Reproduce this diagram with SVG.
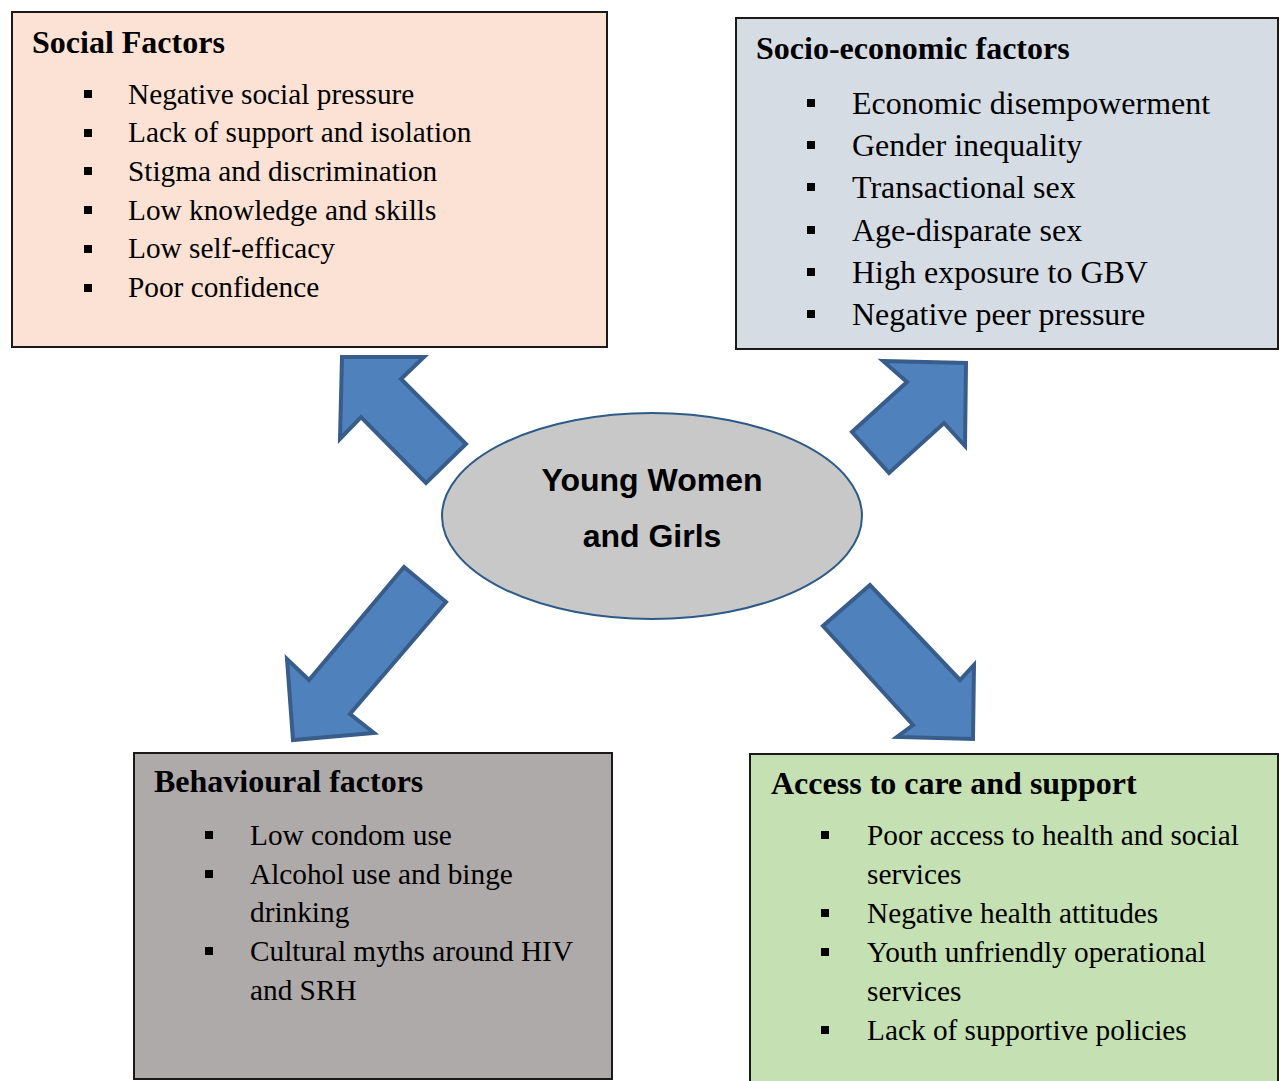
<svg xmlns="http://www.w3.org/2000/svg" width="1280" height="1081" viewBox="0 0 1280 1081">
<style>
.box{stroke:#1a1a1a;stroke-width:2}
.hd{font-family:"Liberation Serif","Times New Roman",serif;font-weight:bold;font-size:32px;fill:#000}
.it{font-family:"Liberation Serif","Times New Roman",serif;font-size:29.3px;fill:#000}
.it2{font-family:"Liberation Serif","Times New Roman",serif;font-size:32px;fill:#000}
.arrow{fill:#4F81BD;stroke:#385D8A;stroke-width:4;stroke-linejoin:miter}
.ctr{font-family:"Liberation Sans",Arial,sans-serif;font-weight:bold;font-size:32px;fill:#000}
</style>
<defs>
<rect id="b" width="8" height="8" fill="#000"/>
</defs>
<rect width="1280" height="1081" fill="#fff"/>

<g id="connectors">
<polygon class="arrow" points="342,357 424,357 401,379 466,444 426,483 361,417 340,439"/>
<polygon class="arrow" points="883,361 966,363 965,446 944,423 889,473 852,432 907,382"/>
<polygon class="arrow" points="404,567 446,602 350,714 374,733 293,740 287,659 309,680"/>
<polygon class="arrow" points="870,585 823,626 913,725 897,737 973,739 974,665 960,680"/>
</g>

<g id="center">
<ellipse cx="652" cy="516" rx="210" ry="103" fill="#C8C8C8" stroke="#2E5A88" stroke-width="2"/>
<text class="ctr" x="652" y="491" text-anchor="middle">Young Women</text>
<text class="ctr" x="652" y="547" text-anchor="middle">and Girls</text>
</g>

<g id="social">
<rect class="box" x="12" y="12" width="595" height="335" fill="#FBE2D5"/>
<text class="hd" x="32" y="53">Social Factors</text>
<use href="#b" x="84" y="90"/><text class="it" x="128" y="103.5">Negative social pressure</text>
<use href="#b" x="84" y="129"/><text class="it" x="128" y="142.2">Lack of support and isolation</text>
<use href="#b" x="84" y="167"/><text class="it" x="128" y="181">Stigma and discrimination</text>
<use href="#b" x="84" y="206"/><text class="it" x="128" y="219.7">Low knowledge and skills</text>
<use href="#b" x="84" y="245"/><text class="it" x="128" y="258.4">Low self-efficacy</text>
<use href="#b" x="84" y="284"/><text class="it" x="128" y="297.1">Poor confidence</text>
</g>

<g id="socioeconomic">
<rect class="box" x="736" y="18" width="542" height="331" fill="#D6DCE4"/>
<text class="hd" x="756" y="59">Socio-economic factors</text>
<use href="#b" x="807" y="99"/><text class="it2" x="852" y="114">Economic disempowerment</text>
<use href="#b" x="807" y="141"/><text class="it2" x="852" y="156">Gender inequality</text>
<use href="#b" x="807" y="183"/><text class="it2" x="852" y="198">Transactional sex</text>
<use href="#b" x="807" y="226"/><text class="it2" x="852" y="241">Age-disparate sex</text>
<use href="#b" x="807" y="268"/><text class="it2" x="852" y="283">High exposure to GBV</text>
<use href="#b" x="807" y="310"/><text class="it2" x="852" y="325">Negative peer pressure</text>
</g>

<g id="behavioural">
<rect class="box" x="134" y="753" width="478" height="326" fill="#AEAAAA"/>
<text class="hd" x="154" y="792">Behavioural factors</text>
<use href="#b" x="205" y="831"/><text class="it" x="250" y="845">Low condom use</text>
<use href="#b" x="205" y="870"/><text class="it" x="250" y="884">Alcohol use and binge</text>
<text class="it" x="250" y="922">drinking</text>
<use href="#b" x="205" y="947"/><text class="it" x="250" y="961">Cultural myths around HIV</text>
<text class="it" x="250" y="1000">and SRH</text>
</g>

<g id="access">
<rect class="box" x="750" y="754" width="528" height="330" fill="#C5E0B3"/>
<text class="hd" x="771" y="794">Access to care and support</text>
<use href="#b" x="821" y="831"/><text class="it" x="867" y="845">Poor access to health and social</text>
<text class="it" x="867" y="884">services</text>
<use href="#b" x="821" y="909"/><text class="it" x="867" y="923">Negative health attitudes</text>
<use href="#b" x="821" y="948"/><text class="it" x="867" y="962">Youth unfriendly operational</text>
<text class="it" x="867" y="1001">services</text>
<use href="#b" x="821" y="1026"/><text class="it" x="867" y="1040">Lack of supportive policies</text>
</g>
</svg>
